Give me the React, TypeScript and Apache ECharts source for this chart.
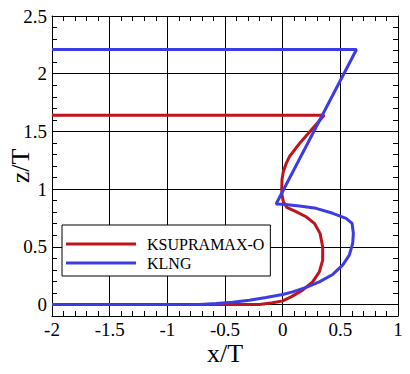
import React, { useEffect, useRef } from "react";
import * as echarts from "echarts";

const seriesNames = ["KSUPRAMAX-O", "KLNG"];

const redX = [-2, -0.6, -0.2, -0.087, 0, 0.073, 0.173, 0.26, 0.318, 0.347, 0.347, 0.324, 0.275, 0.203, 0.116, 0.035, 0.006, -0.006, -0.008, -0.006, 0.005, 0.03, 0.058, 0.15, 0.246, 0.36, -2];
const redY = [0, 0, 0.0, 0.014, 0.031, 0.066, 0.124, 0.196, 0.283, 0.385, 0.5, 0.616, 0.703, 0.76, 0.804, 0.842, 0.891, 0.95, 1.0, 1.079, 1.15, 1.22, 1.28, 1.4, 1.51, 1.64, 1.64];

const blueX = [-2, -0.72, -0.578, -0.434, -0.289, -0.144, 0, 0.087, 0.203, 0.318, 0.434, 0.52, 0.578, 0.607, 0.613, 0.602, 0.55, 0.434, 0.29, 0.145, 0, -0.057, 0.64, -2];
const blueY = [0, 0, 0.009, 0.02, 0.037, 0.061, 0.087, 0.109, 0.148, 0.196, 0.26, 0.341, 0.428, 0.53, 0.616, 0.703, 0.746, 0.79, 0.833, 0.853, 0.868, 0.871, 2.21, 2.21];

const xGridValues = [-1.5, -1, -0.5, 0, 0.5];
const yGridValues = [0, 0.5, 1, 1.5, 2];

const FONT = "Liberation Serif";

const zip = (xs: number[], ys: number[]) => xs.map((x, i) => [x, ys[i]]);

const isMajor = (v: number) => Math.abs(v * 2 - Math.round(v * 2)) < 1e-6;

export default function App() {
  const ref = useRef<HTMLDivElement>(null);
  useEffect(() => {
    if (!ref.current) return;
    const chart = echarts.init(ref.current, null, { renderer: "svg" });
    const xCommon = {
      type: "value" as const,
      min: -2,
      max: 1,
      interval: 0.5,
      axisLine: { show: true, onZero: false, lineStyle: { color: "#000", width: 1 } },
      axisTick: { show: true, inside: true, length: 5, lineStyle: { color: "#000" } },
      minorTick: { show: true, splitNumber: 5, length: 5, lineStyle: { color: "#000" } },
    };
    const yCommon = {
      type: "value" as const,
      min: -0.1,
      max: 2.5,
      interval: 0.1,
      axisLine: { show: true, onZero: false, lineStyle: { color: "#000", width: 1 } },
      axisTick: { show: true, inside: true, length: 5, lineStyle: { color: "#000" } },
      splitLine: { show: false },
    };
    chart.setOption({
      animation: false,
      backgroundColor: "#fff",
      textStyle: { fontFamily: FONT, color: "#000" },
      grid: { left: 52, right: 12, top: 16, bottom: 58, containLabel: false, outerBoundsMode: "none" },
      legend: {
        data: seriesNames,
        orient: "vertical",
        left: 62,
        top: 225,
        padding: [11, 6, 5, 4],
        itemGap: 3,
        itemWidth: 70,
        itemHeight: 3,
        icon: "rect",
        backgroundColor: "#fff",
        borderColor: "#000",
        borderWidth: 1,
        borderRadius: 0,
        textStyle: {
          fontFamily: FONT,
          fontSize: 16,
          lineHeight: 15,
          color: "#000",
          padding: [0, 0, 0, 6],
        },
      },
      xAxis: [
        {
          ...xCommon,
          position: "bottom",
          name: "x/T",
          nameLocation: "middle",
          nameGap: 24,
          nameMoveOverlap: false,
          nameTextStyle: { fontFamily: FONT, fontSize: 26, color: "#000" },
          axisLabel: { fontFamily: FONT, fontSize: 19, color: "#000", margin: 4 },
          splitLine: { show: true, lineStyle: { color: "#000", width: 1 } },
        },
        {
          ...xCommon,
          position: "top",
          axisLabel: { show: false },
          splitLine: { show: false },
        },
      ],
      yAxis: [
        {
          ...yCommon,
          position: "left",
          name: "z/T",
          nameLocation: "middle",
          nameGap: 19,
          nameMoveOverlap: false,
          nameTextStyle: { fontFamily: FONT, fontSize: 26, color: "#000" },
          axisLabel: {
            fontFamily: FONT,
            fontSize: 19,
            color: "#000",
            margin: 5,
            formatter: (v: number) => (isMajor(v) ? String(Math.round(v * 2) / 2) : ""),
          },
        },
        {
          ...yCommon,
          position: "right",
          axisLabel: { show: false },
        },
      ],
      series: [
        {
          name: seriesNames[0],
          type: "line",
          data: zip(redX, redY),
          showSymbol: false,
          symbol: "none",
          lineStyle: { color: "#c0141c", width: 3 },
          itemStyle: { color: "#c0141c" },
          z: 3,
          markLine: {
            silent: true,
            symbol: "none",
            z: 1,
            label: { show: false },
            lineStyle: { color: "#000", width: 1, type: "solid" },
            emphasis: { disabled: true },
            data: [
              ...xGridValues.map((v) => ({ xAxis: v })),
              ...yGridValues.map((v) => ({ yAxis: v })),
            ],
          },
        },
        {
          name: seriesNames[1],
          type: "line",
          data: zip(blueX, blueY),
          showSymbol: false,
          symbol: "none",
          lineStyle: { color: "#3c3ce6", width: 3 },
          itemStyle: { color: "#3c3ce6" },
          z: 4,
        },
      ],
    });
    return () => chart.dispose();
  }, []);
  return <div ref={ref} style={{ width: 410, height: 374, position: "absolute", left: 0, top: 0 }} />;
}
